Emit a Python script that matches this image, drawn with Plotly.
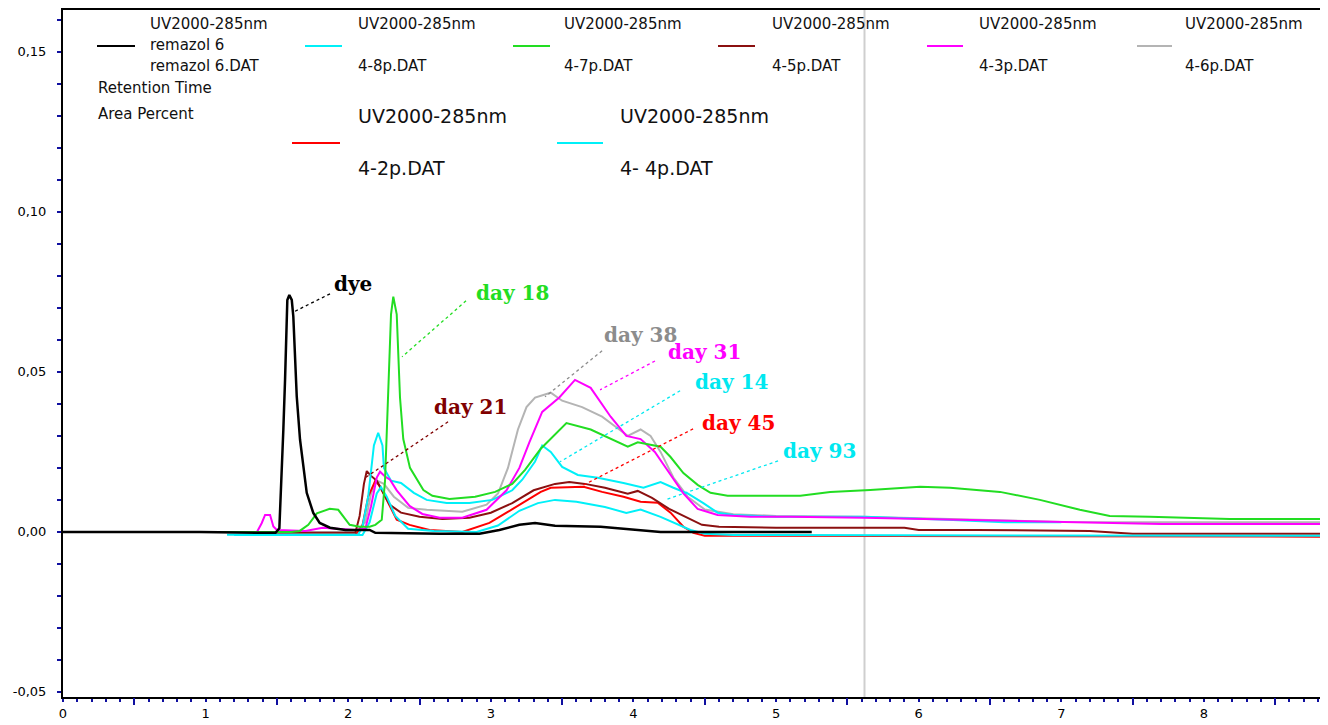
import plotly.graph_objects as go

# ---------------- data (retention time, absorbance) ----------------
dye_x = [0, 0.96, 1.38, 1.49, 1.517, 1.533, 1.545, 1.557, 1.564, 1.573, 1.587, 1.604, 1.615, 1.627,
         1.639, 1.662, 1.685, 1.709, 1.755, 1.80, 1.872, 1.98, 2.15, 2.19, 2.64, 2.92, 3.06, 3.20,
         3.31, 3.45, 3.77, 4.05, 4.19, 4.47, 5.25]
dye_y = [0, 0, -0.0003, -0.0003, 0.0011, 0.0163, 0.0319, 0.0475, 0.062, 0.0725, 0.074, 0.0725,
         0.0673, 0.0528, 0.0423, 0.0288, 0.0204, 0.0122, 0.0059, 0.0028, 0.0013, 0.0006, 0.0006,
         -0.0003, -0.0006, -0.0006, 0.0006, 0.0022, 0.0028, 0.0019, 0.0016, 0.0006, 0, 0, 0]

d18_x = [0, 1.60, 1.66, 1.72, 1.78, 1.87, 1.93, 1.98, 2.01, 2.08, 2.15, 2.19, 2.235, 2.258, 2.281,
         2.30, 2.316, 2.34, 2.363, 2.386, 2.433, 2.527, 2.59, 2.71, 2.89, 3.03, 3.15, 3.24, 3.35,
         3.53, 3.70, 3.96, 4.03, 4.19, 4.26, 4.35, 4.45, 4.54, 4.66, 5.17, 5.38, 5.66, 6.01, 6.22,
         6.57, 6.85, 7.13, 7.34, 7.62, 8.18, 8.87]
d18_y = [0, 0, 0.0003, 0.0022, 0.0058, 0.0072, 0.0069, 0.0038, 0.0022, 0.0016, 0.0016, 0.0022,
         0.0038, 0.016, 0.0475, 0.068, 0.0735, 0.068, 0.042, 0.029, 0.020, 0.0131, 0.0113, 0.0103,
         0.011, 0.0125, 0.015, 0.0194, 0.026, 0.034, 0.032, 0.0266, 0.028, 0.0266, 0.0234, 0.0184,
         0.0147, 0.0122, 0.0113, 0.0113, 0.0125, 0.0131, 0.0141, 0.0138, 0.0125, 0.010, 0.0069,
         0.005, 0.0047, 0.004, 0.004]

d31_x = [0, 1.36, 1.393, 1.417, 1.452, 1.475, 1.50, 1.70, 1.82, 2.05, 2.12, 2.16, 2.20, 2.223, 2.258,
         2.293, 2.34, 2.43, 2.52, 2.64, 2.80, 2.97, 3.11, 3.20, 3.27, 3.36, 3.48, 3.59, 3.70, 3.84,
         3.95, 4.05, 4.15, 4.24, 4.35, 4.45, 4.59, 4.82, 5.10, 5.62, 6.3, 7.0, 7.7, 8.87]
d31_y = [0, 0, 0.0027, 0.0053, 0.0053, 0.0017, 0.0006, 0.0003, 0.0013, 0.0006, 0.001, 0.008, 0.017,
         0.0188, 0.0173, 0.0163, 0.013, 0.0081, 0.0056, 0.0044, 0.0044, 0.0069, 0.013, 0.020, 0.028,
         0.0375, 0.042, 0.0475, 0.045, 0.036, 0.030, 0.029, 0.025, 0.019, 0.012, 0.0072, 0.0053,
         0.0047, 0.0047, 0.0044, 0.0038, 0.003, 0.0025, 0.0025]

d38_x = [0, 2.05, 2.12, 2.16, 2.20, 2.25, 2.32, 2.42, 2.55, 2.80, 2.97, 3.05, 3.12, 3.19, 3.25, 3.31,
         3.42, 3.50, 3.64, 3.78, 3.87, 3.96, 4.05, 4.12, 4.19, 4.28, 4.38, 4.50, 4.70, 5.0, 5.6, 6.3,
         7.0, 8.87]
d38_y = [0, 0, 0.003, 0.012, 0.016, 0.015, 0.011, 0.0075, 0.0069, 0.0063, 0.0085, 0.012, 0.020,
         0.032, 0.039, 0.042, 0.0435, 0.041, 0.039, 0.036, 0.033, 0.030, 0.032, 0.030, 0.025, 0.017,
         0.011, 0.007, 0.0055, 0.005, 0.0047, 0.0038, 0.0031, 0.003]

d14_x = [1.15, 2.07, 2.10, 2.14, 2.18, 2.21, 2.24, 2.25, 2.30, 2.37, 2.46, 2.55, 2.69, 2.85, 3.01,
         3.15, 3.22, 3.31, 3.36, 3.42, 3.50, 3.61, 3.75, 3.93, 4.07, 4.19, 4.28, 4.38, 4.49, 4.59,
         4.70, 5.0, 5.4, 5.62, 6.2, 6.6, 7.0]
d14_y = [-0.0009, -0.0009, 0.0016, 0.011, 0.027, 0.031, 0.027, 0.020, 0.016, 0.0153, 0.0122, 0.010,
         0.009, 0.009, 0.010, 0.013, 0.0163, 0.022, 0.027, 0.025, 0.0203, 0.0178, 0.0169, 0.0153,
         0.0138, 0.0156, 0.0138, 0.012, 0.009, 0.006, 0.0053, 0.0047, 0.0047, 0.0047, 0.0038, 0.003,
         0.003]

d93_x = [1.20, 2.10, 2.15, 2.20, 2.23, 2.27, 2.33, 2.42, 2.60, 2.90, 3.05, 3.20, 3.33, 3.45, 3.60,
         3.80, 3.95, 4.05, 4.19, 4.30, 4.40, 4.50, 4.70, 8.87]
d93_y = [-0.001, -0.001, 0.003, 0.012, 0.014, 0.011, 0.005, 0.001, 0.0003, 0, 0.002, 0.0066, 0.009,
         0.010, 0.0094, 0.0078, 0.0059, 0.007, 0.0047, 0.0025, 0.0006, -0.0006, -0.001, -0.0012]

d21_x = [1.40, 2.05, 2.08, 2.11, 2.13, 2.16, 2.20, 2.24, 2.29, 2.37, 2.50, 2.66, 2.85, 3.0, 3.15,
         3.30, 3.45, 3.55, 3.66, 3.80, 3.96, 4.03, 4.13, 4.25, 4.38, 4.48, 4.60, 5.0, 5.9, 6.0, 6.4,
         7.2, 7.5, 8.87]
d21_y = [-0.0003, -0.0003, 0.005, 0.015, 0.019, 0.0175, 0.016, 0.0125, 0.0085, 0.006, 0.0047, 0.004,
         0.0044, 0.006, 0.009, 0.013, 0.0150, 0.0156, 0.0150, 0.0138, 0.0119, 0.0128, 0.0106, 0.0072,
         0.0044, 0.0022, 0.0016, 0.0013, 0.0013, 0.0006, 0.0006, 0.0003, -0.0006, -0.0006]

d45_x = [1.45, 2.05, 2.10, 2.14, 2.19, 2.22, 2.27, 2.34, 2.43, 2.57, 2.80, 2.99, 3.11, 3.22, 3.35,
         3.42, 3.65, 3.78, 3.93, 4.05, 4.17, 4.26, 4.35, 4.42, 4.50, 8.87]
d45_y = [-0.001, -0.001, 0.002, 0.011, 0.016, 0.0144, 0.010, 0.0038, 0.0022, 0.0006, 0.0, 0.0028,
         0.006, 0.009, 0.0125, 0.0138, 0.0141, 0.0125, 0.011, 0.0094, 0.0091, 0.006, 0.0016, -0.0003,
         -0.0012, -0.0015]

# label text, label position, leader line (from, to) in data units
labels = ["dye", "day 18", "day 21", "day 38", "day 31", "day 14", "day 45", "day 93"]
label_x = [2.034, 3.155, 2.854, 4.046, 4.495, 4.684, 4.733, 5.302]
label_y = [0.0775, 0.0747, 0.0391, 0.0616, 0.0563, 0.0469, 0.0341, 0.0253]
lead_x0 = [1.872, 2.826, 2.700, 3.780, 4.151, 4.327, 4.418, 5.014]
lead_y0 = [0.0744, 0.0722, 0.0344, 0.0566, 0.0534, 0.0441, 0.0322, 0.0222]
lead_x1 = [1.620, 2.377, 2.118, 3.380, 3.766, 3.485, 3.626, 4.222]
lead_y1 = [0.0688, 0.0547, 0.0169, 0.0422, 0.0444, 0.0219, 0.0141, 0.0100]
label_colors = ["#000000", "#22DD22", "#800000", "#8C8C8C", "#FF00FF", "#00E8F0", "#FF0000", "#00E8F0"]

marker_x = 5.62  # vertical cursor line

y_tickvals = [-0.05, 0.0, 0.05, 0.10, 0.15]
y_ticktext = ["-0,05", "0,00", "0,05", "0,10", "0,15"]
x_tickvals = [0, 1, 2, 3, 4, 5, 6, 7, 8]
x_ticktext = ["0", "1", "2", "3", "4", "5", "6", "7", "8"]
x_halfticks = [0.5, 1.5, 2.5, 3.5, 4.5, 5.5, 6.5, 7.5, 8.5]

series = [
    ("4-6p.DAT", d38_x, d38_y, "#B4B4B4", 2),
    ("4-2p.DAT", d45_x, d45_y, "#FF0000", 2),
    ("4-5p.DAT", d21_x, d21_y, "#8B1010", 2),
    ("4- 4p.DAT", d93_x, d93_y, "#00F0F8", 2),
    ("4-8p.DAT", d14_x, d14_y, "#00F0F8", 2),
    ("4-3p.DAT", d31_x, d31_y, "#FF00FF", 2),
    ("4-7p.DAT", d18_x, d18_y, "#22DD22", 2),
    ("remazol 6.DAT", dye_x, dye_y, "#000000", 2.5),
]

# ---------------- figure ----------------
OFF = 8  # page body margin of the html page
W, H = 1328 - OFF, 725 - OFF
L, R, T, B = 63 - OFF, 0, 10 - OFF, 725 - 697
fig = go.Figure()
for name, xs, ys, col, w in series:
    fig.add_trace(go.Scatter(x=xs, y=ys, mode="lines", name=name,
                             line=dict(color=col, width=w), showlegend=False,
                             hoverinfo="skip"))
# helper trace for the half-unit tick axis
fig.add_trace(go.Scatter(x=[None], y=[None], xaxis="x2", showlegend=False, hoverinfo="skip"))

shapes = [dict(type="line", xref="x", yref="paper", x0=marker_x, x1=marker_x, y0=0, y1=1,
               line=dict(color="#CFCFCF", width=2), layer="below")]
annotations = []
for t, lx, ly, x0, y0, x1, y1, c in zip(labels, label_x, label_y, lead_x0, lead_y0,
                                         lead_x1, lead_y1, label_colors):
    shapes.append(dict(type="line", xref="x", yref="y", x0=x0, y0=y0, x1=x1, y1=y1,
                       line=dict(color=c, width=1.3, dash="dot")))
    annotations.append(dict(x=lx, y=ly, xref="x", yref="y", text="<b>" + t + "</b>",
                            showarrow=False, font=dict(family="DejaVu Serif", size=20, color=c)))

# ---- custom legend block (page pixel positions -> paper coords) ----
pw, ph = W - L - R, H - T - B
def px(xp):
    return (xp - OFF - L) / pw
def py(yp):
    return (H - B - (yp - OFF)) / ph

small = dict(family="DejaVu Sans", size=15, color="#111111")
big = dict(family="DejaVu Sans", size=19, color="#111111")
leg_row1 = [  # line x0, x1, text x, label, color
    (97, 135, 148, "remazol", "#000000"),
    (305, 342, 356, "4-8p.DAT", "#00F0F8"),
    (513, 550, 562, "4-7p.DAT", "#22DD22"),
    (718, 755, 770, "4-5p.DAT", "#8B1010"),
    (927, 963, 977, "4-3p.DAT", "#FF00FF"),
    (1137, 1172, 1183, "4-6p.DAT", "#B4B4B4"),
]
for x0, x1, tx, lab, col in leg_row1:
    shapes.append(dict(type="line", xref="paper", yref="paper", x0=px(x0), x1=px(x1),
                       y0=py(46), y1=py(46), line=dict(color=col, width=2)))
    annotations.append(dict(x=px(tx), y=py(24), xref="paper", yref="paper", text="UV2000-285nm",
                            showarrow=False, xanchor="left", yanchor="middle", font=small))
    if lab == "remazol":
        annotations.append(dict(x=px(tx), y=py(45), xref="paper", yref="paper", text="remazol 6",
                                showarrow=False, xanchor="left", yanchor="middle", font=small))
        annotations.append(dict(x=px(tx), y=py(66), xref="paper", yref="paper", text="remazol 6.DAT",
                                showarrow=False, xanchor="left", yanchor="middle", font=small))
    else:
        annotations.append(dict(x=px(tx), y=py(66), xref="paper", yref="paper", text=lab,
                                showarrow=False, xanchor="left", yanchor="middle", font=small))
annotations.append(dict(x=px(96), y=py(88), xref="paper", yref="paper", text="Retention Time",
                        showarrow=False, xanchor="left", yanchor="middle", font=small))
annotations.append(dict(x=px(96), y=py(114), xref="paper", yref="paper", text="Area Percent",
                        showarrow=False, xanchor="left", yanchor="middle", font=small))
leg_row2 = [
    (292, 340, 356, "4-2p.DAT", "#FF0000"),
    (557, 603, 618, "4- 4p.DAT", "#00F0F8"),
]
for x0, x1, tx, lab, col in leg_row2:
    shapes.append(dict(type="line", xref="paper", yref="paper", x0=px(x0), x1=px(x1),
                       y0=py(143), y1=py(143), line=dict(color=col, width=2)))
    annotations.append(dict(x=px(tx), y=py(116), xref="paper", yref="paper", text="UV2000-285nm",
                            showarrow=False, xanchor="left", yanchor="middle", font=big))
    annotations.append(dict(x=px(tx), y=py(168), xref="paper", yref="paper", text=lab,
                            showarrow=False, xanchor="left", yanchor="middle", font=big))

x_range = [0, 8.87]
y_range = [-0.0516, 0.1631]
tickfont = dict(family="DejaVu Sans", size=13, color="#000000")

fig.update_layout(
    width=W, height=H,
    margin=dict(l=L, r=R, t=T, b=B, autoexpand=False),
    paper_bgcolor="white", plot_bgcolor="white",
    shapes=shapes, annotations=annotations,
    xaxis=dict(range=x_range, showgrid=False, zeroline=False, showline=True, linecolor="black",
               linewidth=2, mirror=True, tickvals=x_tickvals, ticktext=x_ticktext,
               ticks="outside", ticklen=3, tickcolor="#1010A0", tickwidth=1.5, tickfont=tickfont,
               minor=dict(dtick=0.1, tick0=0, ticks="outside", ticklen=3, tickcolor="#1010A0",
                          tickwidth=1.5, showgrid=False)),
    xaxis2=dict(range=x_range, overlaying="x", anchor="y", side="bottom", showgrid=False,
                zeroline=False, showline=False, tickvals=x_halfticks, ticks="outside", ticklen=7,
                tickcolor="#1010A0", tickwidth=1.5, showticklabels=False),
    yaxis=dict(range=y_range, showgrid=False, zeroline=False, showline=True, linecolor="black",
               linewidth=2, mirror=False, tickvals=y_tickvals, ticktext=y_ticktext,
               ticks="outside", ticklen=4, tickcolor="#1010A0", tickwidth=1.5, tickfont=tickfont,
               ticklabelstandoff=8,
               minor=dict(dtick=0.01, tick0=0, ticks="outside", ticklen=4, tickcolor="#1010A0",
                          tickwidth=1.5, showgrid=False)),
    hovermode=False,
)

fig.write_html("out.html")
